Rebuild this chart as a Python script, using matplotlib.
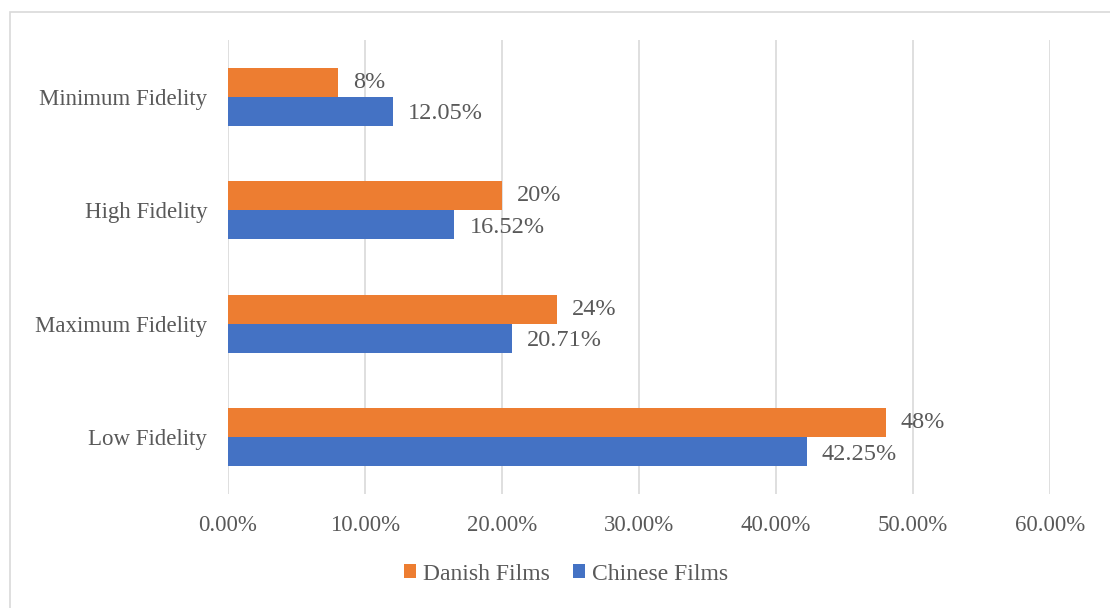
import matplotlib.pyplot as plt
from matplotlib.patches import Rectangle
from matplotlib.ticker import FuncFormatter
import numpy as np

categories = ["Low Fidelity", "Maximum Fidelity", "High Fidelity", "Minimum Fidelity"]
danish = [48, 24, 20, 8]
chinese = [42.25, 20.71, 16.52, 12.05]
danish_labels = ["48%", "24%", "20%", "8%"]
chinese_labels = ["42.25%", "20.71%", "16.52%", "12.05%"]
ticks = [0, 10, 20, 30, 40, 50, 60]

plt.rcParams["font.family"] = ["Liberation Serif", "DejaVu Serif"]
text_color = "#595959"
orange = "#ED7D31"
blue = "#4472C4"

fig = plt.figure(figsize=(11.1, 6.08), dpi=100)
ax = fig.add_axes([228 / 1110, 1 - 494 / 608, 822 / 1110, 454 / 608])

# outer chart frame
fig.patches.append(Rectangle((10 / 1110, -0.05), 1.2, 1 - 12 / 608 + 0.05,
                             transform=fig.transFigure, fill=False,
                             edgecolor="#d9d9d9", linewidth=1.2))

y = np.arange(len(categories))
h = 0.257
b_dan = ax.barh(y + h / 2, danish, height=h, color=orange, label="Danish Films", zorder=3)
b_chn = ax.barh(y - h / 2, chinese, height=h, color=blue, label="Chinese Films", zorder=3)

for bar, lab in zip(b_dan, danish_labels):
    ax.text(bar.get_width() + 1.1, bar.get_y() + bar.get_height() / 2, lab,
            va="center", ha="left", fontsize=17.5, color=text_color)
for bar, lab in zip(b_chn, chinese_labels):
    ax.text(bar.get_width() + 1.1, bar.get_y() + bar.get_height() / 2 - 0.02, lab,
            va="center", ha="left", fontsize=17.5, color=text_color)

ax.set_xlim(0, 60)
ax.set_ylim(-0.5, len(categories) - 0.5)
ax.set_xticks(ticks)
ax.xaxis.set_major_formatter(FuncFormatter(lambda v, p: f"{v:.2f}%"))
ax.set_yticks(y)
ax.set_yticklabels(categories)
ax.tick_params(axis="both", length=0, labelsize=16.5, colors=text_color)
ax.tick_params(axis="x", pad=15)
ax.tick_params(axis="y", pad=15)
ax.grid(axis="x", color="#d9d9d9", linewidth=1.2, zorder=0)
for s in ax.spines.values():
    s.set_visible(False)

fig.legend(handles=[b_dan, b_chn], loc="center", bbox_to_anchor=(0.51, 1 - 574 / 608),
           ncol=2, frameon=False, fontsize=17, handlelength=0.5, handleheight=0.5,
           handletextpad=0.3, columnspacing=1.0, labelcolor=text_color)

fig.savefig("out.png", dpi=100)
